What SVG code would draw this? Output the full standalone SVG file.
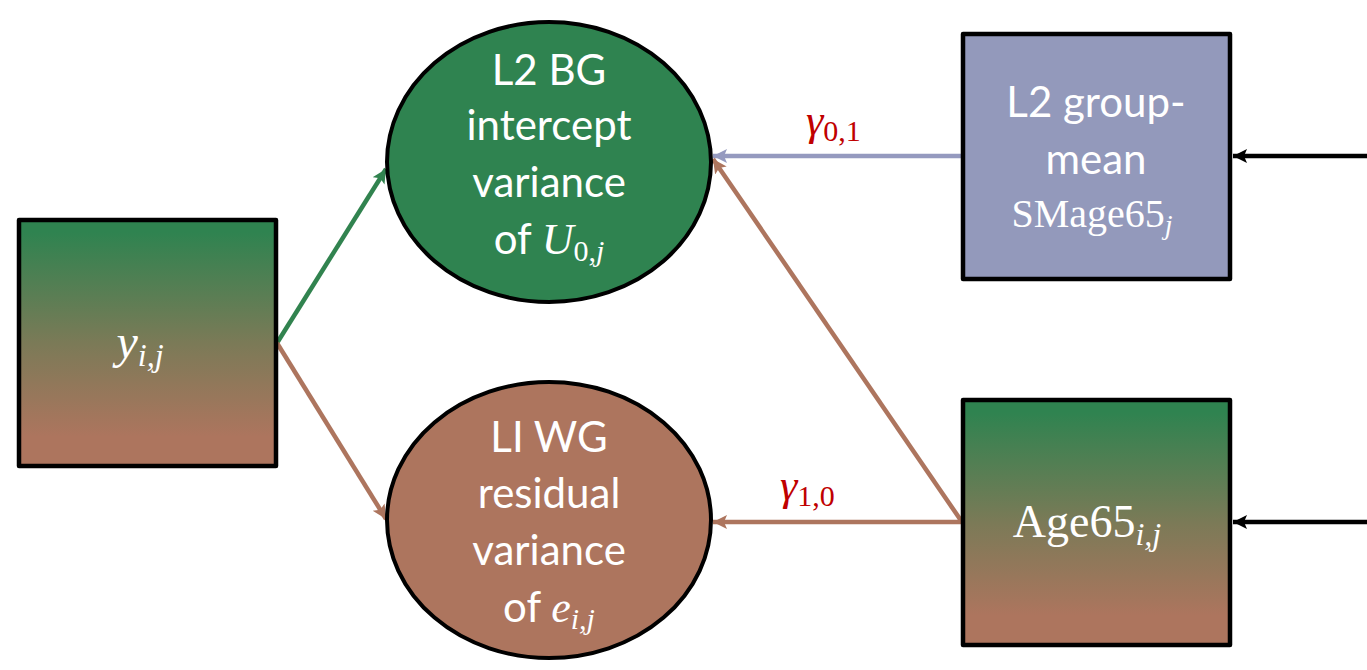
<svg xmlns="http://www.w3.org/2000/svg" width="1367" height="670" viewBox="0 0 1367 670">
<defs>
<linearGradient id="gb" x1="0" y1="0" x2="0" y2="1">
<stop offset="0.05" stop-color="#2f8350"/>
<stop offset="0.5" stop-color="#7b7a57"/>
<stop offset="0.88" stop-color="#ad755e"/>
</linearGradient>
<marker id="aG" markerUnits="userSpaceOnUse" markerWidth="16" markerHeight="16" refX="14" refY="7" orient="auto"><path d="M0,0 L14,7 L0,14 L3,7 Z" fill="#31834f"/></marker>
<marker id="aB" markerUnits="userSpaceOnUse" markerWidth="16" markerHeight="16" refX="14" refY="7" orient="auto"><path d="M0,0 L14,7 L0,14 L3,7 Z" fill="#ad755e"/></marker>
<marker id="aS" markerUnits="userSpaceOnUse" markerWidth="16" markerHeight="16" refX="14" refY="7" orient="auto"><path d="M0,0 L14,7 L0,14 L3,7 Z" fill="#959abf"/></marker>
<marker id="aK" markerUnits="userSpaceOnUse" markerWidth="16" markerHeight="16" refX="14" refY="7" orient="auto"><path d="M0,0 L14,7 L0,14 L3,7 Z" fill="#000"/></marker>
</defs>
<style>
.box{stroke:#000;stroke-width:4.5;stroke-linejoin:round}
.ell{stroke:#000;stroke-width:4}
.t{font-family:"Lato","Open Sans",sans-serif;font-size:42px;fill:#fff;text-anchor:middle}
.m{font-family:"Liberation Serif","DejaVu Serif",serif;font-style:italic;fill:#fff}
.mu{font-family:"Liberation Serif","DejaVu Serif",serif;fill:#fff}
.g{font-family:"Liberation Serif","DejaVu Serif",serif;fill:#c00000}
.c{fill:none;stroke-width:4.5}
</style>
<g id="connectors">
<line class="c" x1="277" y1="343" x2="386" y2="169" stroke="#31834f" marker-end="url(#aG)"/>
<line class="c" x1="277" y1="343" x2="386" y2="519" stroke="#ad755e" marker-end="url(#aB)"/>
<line class="c" x1="962" y1="156" x2="713" y2="156" stroke="#959abf" marker-end="url(#aS)"/>
<line class="c" x1="962" y1="522" x2="713" y2="159" stroke="#ad755e" marker-end="url(#aB)"/>
<line class="c" x1="962" y1="522" x2="713" y2="522" stroke="#ad755e" marker-end="url(#aB)"/>
<line class="c" x1="1367" y1="156" x2="1233" y2="156" stroke="#000" marker-end="url(#aK)"/>
<line class="c" x1="1367" y1="522" x2="1233" y2="522" stroke="#000" marker-end="url(#aK)"/>
<text class="g" x="806" y="135"><tspan font-style="italic" font-size="44">γ</tspan><tspan font-size="30" dy="6">0,1</tspan></text>
<text class="g" x="780" y="500"><tspan font-style="italic" font-size="44">γ</tspan><tspan font-size="30" dy="6">1,0</tspan></text>
</g>
<g id="y_ij">
<rect class="box" x="19" y="220" width="257" height="246" fill="url(#gb)"/>
<text x="140" y="358" text-anchor="middle"><tspan class="m" font-size="48">y</tspan><tspan class="m" font-size="32" dy="8">i,j</tspan></text>
</g>
<g id="L2BG">
<ellipse class="ell" cx="549" cy="162" rx="162" ry="140" fill="#2f8350"/>
<text class="t" x="549" y="85">L2 BG</text>
<text class="t" x="549" y="140">intercept</text>
<text class="t" x="549" y="197">variance</text>
<text class="t" x="549" y="254">of <tspan class="m" font-size="44">U</tspan><tspan class="mu" font-size="30" dy="7">0,</tspan><tspan class="m" font-size="30">j</tspan></text>
</g>
<g id="L1WG">
<ellipse class="ell" cx="549" cy="520" rx="162" ry="138" fill="#ad755e"/>
<text class="t" x="549" y="452">LI WG</text>
<text class="t" x="549" y="508">residual</text>
<text class="t" x="549" y="565">variance</text>
<text class="t" x="549" y="622">of <tspan class="m" font-size="44">e</tspan><tspan class="m" font-size="30" dy="7">i,j</tspan></text>
</g>
<g id="SMage65">
<rect class="box" x="963" y="34" width="267" height="245" fill="#9399bb"/>
<text class="t" x="1096" y="117">L2 group-</text>
<text class="t" x="1096" y="174">mean</text>
<text x="1092" y="227" text-anchor="middle"><tspan class="mu" font-size="40">SMage65</tspan><tspan class="m" font-size="28" dy="7">j</tspan></text>
</g>
<g id="Age65">
<rect class="box" x="963" y="400" width="267" height="245" fill="url(#gb)"/>
<text x="1087" y="537" text-anchor="middle"><tspan class="mu" font-size="46">Age65</tspan><tspan class="m" font-size="32" dy="8">i,j</tspan></text>
</g>
</svg>
